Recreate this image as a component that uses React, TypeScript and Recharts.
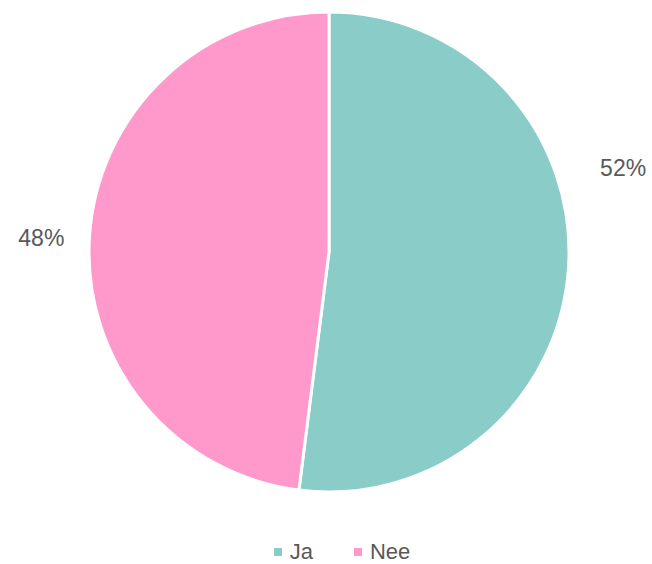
import React from "react";
import { PieChart, Pie, Cell, Legend } from "recharts";

const categories = ["Ja", "Nee"];
const values = [52, 48];
const colors = ["#89CCC8", "#FF99CC"];
const labelTexts = ["52%", "48%"];

const data = categories.map((name, i) => ({ name, value: values[i] }));

const RAD = Math.PI / 180;
// label placement (angle in degrees, distance from centre) mimicking best-fit labels
const labelAngles = [16, 177.2];
const labelDist = [306, 288];

const FONT = "Liberation Sans, Arial, sans-serif";

const renderLabel = (props: any) => {
  const { cx, cy, index } = props;
  const a = labelAngles[index] * RAD;
  const x = cx + labelDist[index] * Math.cos(a);
  const y = cy - labelDist[index] * Math.sin(a);
  return (
    <text
      x={x}
      y={y}
      fill="#595959"
      fontSize={23}
      fontFamily={FONT}
      textAnchor="middle"
      dominantBaseline="central"
    >
      {labelTexts[index]}
    </text>
  );
};

const renderLegend = () => (
  <div
    style={{
      display: "flex",
      justifyContent: "center",
      alignItems: "center",
      fontFamily: FONT,
      fontSize: 22,
      lineHeight: "24px",
      height: 24,
      color: "#595959",
      gap: 41,
      paddingLeft: 32,
    }}
  >
    {categories.map((c, i) => (
      <div key={c} style={{ display: "flex", alignItems: "center" }}>
        <span
          style={{
            display: "inline-block",
            width: 8,
            height: 8,
            background: colors[i],
            marginRight: 8,
          }}
        />
        <span>{c}</span>
      </div>
    ))}
  </div>
);

export default function App() {
  return (
    <div style={{ position: "absolute", left: 0, top: 0, background: "#fff" }}>
      <PieChart
        width={652}
        height={564}
        margin={{ top: 0, right: 0, bottom: 0, left: 0 }}
      >
        <Pie
          data={data}
          dataKey="value"
          nameKey="name"
          cx={329}
          cy={252}
          outerRadius={240}
          startAngle={90}
          endAngle={-270}
          stroke="#ffffff"
          strokeWidth={3}
          label={renderLabel}
          labelLine={false}
          isAnimationActive={false}
        >
          {data.map((d, i) => (
            <Cell key={d.name} fill={colors[i]} />
          ))}
        </Pie>
        <Legend
          content={renderLegend}
          verticalAlign="bottom"
          wrapperStyle={{ top: 540, left: 0, width: 652, bottom: "auto" }}
        />
      </PieChart>
    </div>
  );
}
